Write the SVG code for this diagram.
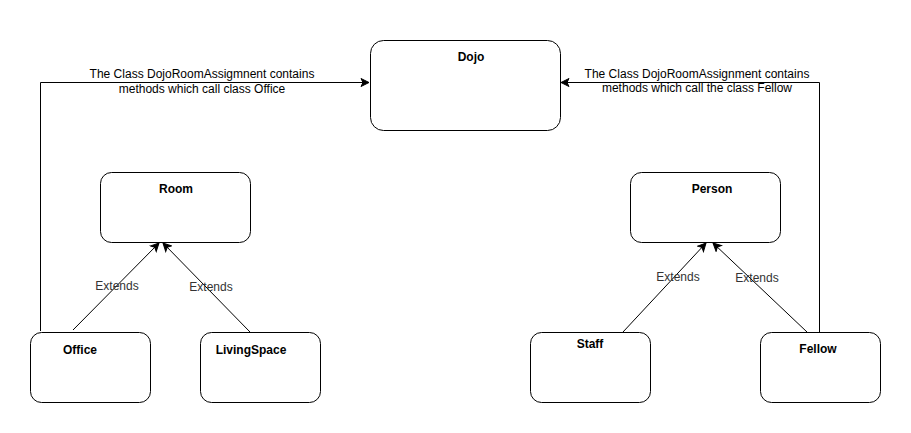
<svg xmlns="http://www.w3.org/2000/svg" width="911" height="433" viewBox="0 0 911 433">
<style>
.node{fill:#fff;stroke:#000;stroke-width:1}
.title{font-family:"Liberation Sans",Arial,sans-serif;font-size:12px;font-weight:bold;fill:#000;text-anchor:middle}
.lbl{font-family:"Liberation Sans",Arial,sans-serif;font-size:12px;fill:#000;text-anchor:middle}
.elbl{font-family:"Liberation Sans",Arial,sans-serif;font-size:12px;fill:#333;text-anchor:middle}
.edge{fill:none;stroke:#000;stroke-width:1}
</style>
<defs>
<marker id="arr" markerWidth="10" markerHeight="10" refX="9" refY="5" orient="auto" markerUnits="userSpaceOnUse">
<path d="M1,1 L9,5 L1,9 L3,5 Z" fill="#000" stroke="#000" stroke-width="1"/>
</marker>
</defs>
<rect width="911" height="433" fill="#fff"/>
<g id="connectors">
<path class="edge" d="M40.5,331 V82.5 H369" marker-end="url(#arr)"/>
<path class="edge" d="M819.5,332 V82.5 H561" marker-end="url(#arr)"/>
<path class="edge" d="M73,330 L159,243" marker-end="url(#arr)"/>
<path class="edge" d="M250,332 L163,243" marker-end="url(#arr)"/>
<path class="edge" d="M623,332 L706,243" marker-end="url(#arr)"/>
<path class="edge" d="M807,332 L713,243" marker-end="url(#arr)"/>
<text class="lbl" x="202" y="78">The Class DojoRoomAssigmnent contains</text>
<text class="lbl" x="202" y="93">methods which call class Office</text>
<text class="lbl" x="697" y="78">The Class DojoRoomAssignment contains</text>
<text class="lbl" x="697" y="92">methods which call the class Fellow</text>
<text class="elbl" x="117" y="290">Extends</text>
<text class="elbl" x="211" y="291">Extends</text>
<text class="elbl" x="678" y="281">Extends</text>
<text class="elbl" x="757" y="282">Extends</text>
</g>
<g id="dojo">
<rect class="node" x="370.5" y="40.5" width="190" height="90" rx="13"/>
<text class="title" x="471" y="61">Dojo</text>
</g>
<g id="room">
<rect class="node" x="100.5" y="172.5" width="150" height="70" rx="11"/>
<text class="title" x="176" y="193">Room</text>
</g>
<g id="person">
<rect class="node" x="630.5" y="172.5" width="150" height="70" rx="11"/>
<text class="title" x="712" y="193">Person</text>
</g>
<g id="office">
<rect class="node" x="30.5" y="332.5" width="120" height="70" rx="11"/>
<text class="title" x="80" y="354">Office</text>
</g>
<g id="livingspace">
<rect class="node" x="200.5" y="332.5" width="120" height="70" rx="11"/>
<text class="title" x="251" y="354">LivingSpace</text>
</g>
<g id="staff">
<rect class="node" x="530.5" y="332.5" width="120" height="70" rx="11"/>
<text class="title" x="590" y="348">Staff</text>
</g>
<g id="fellow">
<rect class="node" x="760.5" y="332.5" width="120" height="70" rx="11"/>
<text class="title" x="818" y="353">Fellow</text>
</g>
</svg>
